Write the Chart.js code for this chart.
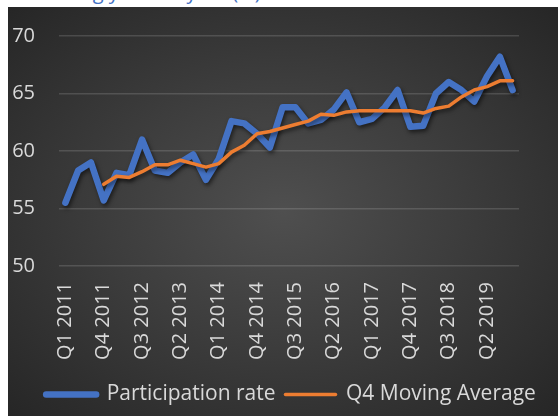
<!DOCTYPE html>
<html>
<head>
<meta charset="utf-8">
<script src="https://cdn.jsdelivr.net/npm/chart.js@4/dist/chart.umd.min.js"></script>
<style>
  html, body { margin: 0; padding: 0; background: #ffffff; }
  #wrap { position: relative; width: 558px; height: 416px; overflow: hidden; background: #ffffff; }
  #title { position: absolute; left: 8px; top: -19px; font: 20px "Open Sans", sans-serif; color: #4472C4; white-space: nowrap; line-height: 22px; }
  #panel { position: absolute; left: 8px; top: 7px; width: 550px; height: 409px;
           background: radial-gradient(ellipse at 50% 50%, #4f4f4f 0%, #3d3d3d 45%, #262626 100%); }
  #c { position: absolute; left: 0; top: 0; }
</style>
</head>
<body>
<div id="wrap">
  <div id="title">Increasing year-on-year (%)</div>
  <div id="panel"></div>
  <canvas id="c" width="558" height="416"></canvas>
</div>
<script>
const categories = [
  "Q1 2011","Q2 2011","Q3 2011","Q4 2011",
  "Q1 2012","Q2 2012","Q3 2012","Q4 2012",
  "Q1 2013","Q2 2013","Q3 2013","Q4 2013",
  "Q1 2014","Q2 2014","Q3 2014","Q4 2014",
  "Q1 2015","Q2 2015","Q3 2015","Q4 2015",
  "Q1 2016","Q2 2016","Q3 2016","Q4 2016",
  "Q1 2017","Q2 2017","Q3 2017","Q4 2017",
  "Q1 2018","Q2 2018","Q3 2018","Q4 2018",
  "Q1 2019","Q2 2019","Q3 2019","Q4 2019"
];
const participationRate = [
  55.5, 58.3, 59.0, 55.7,
  58.1, 57.9, 61.0, 58.3,
  58.1, 59.0, 59.7, 57.5,
  59.3, 62.6, 62.4, 61.5,
  60.3, 63.8, 63.8, 62.4,
  62.7, 63.6, 65.1, 62.5,
  62.8, 63.8, 65.3, 62.1,
  62.2, 65.0, 66.0, 65.3,
  64.3, 66.5, 68.2, 65.3
];
const movingAverage = [
  null, null, null, 57.1,
  57.8, 57.7, 58.2, 58.8,
  58.8, 59.2, 58.9, 58.6,
  58.9, 59.9, 60.5, 61.5,
  61.7, 62.0, 62.3, 62.6,
  63.2, 63.1, 63.4, 63.5,
  63.5, 63.5, 63.5, 63.5,
  63.3, 63.7, 63.9, 64.7,
  65.3, 65.6, 66.1, 66.1
];
const yTicks = [50, 55, 60, 65, 70];
const labelEvery = 3;

const FONT = '"Open Sans", Lato, sans-serif';
const TXT = '#d9d9d9';
const BLUE = '#4472C4';
const ORANGE = '#ED7D31';

const shadowPlugin = {
  id: 'lineShadow',
  beforeDatasetDraw(chart) {
    const ctx = chart.ctx;
    ctx.save();
    ctx.shadowColor = 'rgba(0,0,0,0.55)';
    ctx.shadowBlur = 4;
    ctx.shadowOffsetX = 1.5;
    ctx.shadowOffsetY = 2.5;
  },
  afterDatasetDraw(chart) {
    chart.ctx.restore();
  }
};

const legendShift = {
  id: 'legendShift',
  afterLayout(chart) {
    const lg = chart.legend;
    if (lg) { lg.left += 12; lg.right += 12; }
  }
};

new Chart(document.getElementById('c'), {
  type: 'line',
  data: {
    labels: categories,
    datasets: [
      {
        label: 'Participation rate',
        data: participationRate,
        borderColor: BLUE,
        borderWidth: 6.5,
        borderJoinStyle: 'round',
        borderCapStyle: 'round',
        pointRadius: 0,
        tension: 0,
        order: 1
      },
      {
        label: 'Q4 Moving Average',
        data: movingAverage,
        borderColor: ORANGE,
        borderWidth: 3.5,
        borderJoinStyle: 'round',
        borderCapStyle: 'round',
        pointRadius: 0,
        tension: 0,
        order: 0
      }
    ]
  },
  options: {
    responsive: false,
    animation: false,
    devicePixelRatio: 1,
    layout: { padding: { left: 0, right: 0, top: 26, bottom: 1 } },
    plugins: {
      tooltip: { enabled: false },
      legend: {
        position: 'bottom',
        labels: {
          color: TXT,
          font: { family: FONT, size: 21 },
          usePointStyle: true,
          pointStyleWidth: 50,
          padding: 10,
          generateLabels(chart) {
            return chart.data.datasets.map((ds, i) => ({
              text: ds.label,
              fillStyle: ds.borderColor,
              strokeStyle: ds.borderColor,
              lineWidth: i === 0 ? 6.5 : 3.5,
              lineCap: 'round',
              pointStyle: 'line',
              fontColor: TXT,
              hidden: false,
              datasetIndex: i
            }));
          }
        }
      }
    },
    scales: {
      x: {
        type: 'category',
        offset: true,
        grid: { display: false, drawTicks: false },
        border: { display: false },
        ticks: {
          autoSkip: false,
          maxRotation: 90,
          minRotation: 90,
          padding: 16,
          color: TXT,
          font: { family: FONT, size: 20 },
          callback(value, index) {
            return index % labelEvery === 0 ? categories[index] : '';
          }
        },
        afterFit(s) { s.height = 108; }
      },
      y: {
        position: 'left',
        min: yTicks[0],
        max: yTicks[yTicks.length - 1],
        afterBuildTicks(s) { s.ticks = yTicks.map(v => ({ value: v })); },
        grid: { color: 'rgba(255,255,255,0.14)', lineWidth: 1.5, drawTicks: false },
        border: { display: false },
        ticks: {
          padding: 24,
          color: TXT,
          font: { family: FONT, size: 20 }
        },
        afterFit(s) { s.width = 59; }
      },
      y2: {
        position: 'right',
        display: true,
        grid: { display: false, drawTicks: false },
        border: { display: false },
        ticks: { display: false },
        afterFit(s) { s.width = 39; }
      }
    }
  },
  plugins: [shadowPlugin, legendShift]
});
</script>
</body>
</html>
